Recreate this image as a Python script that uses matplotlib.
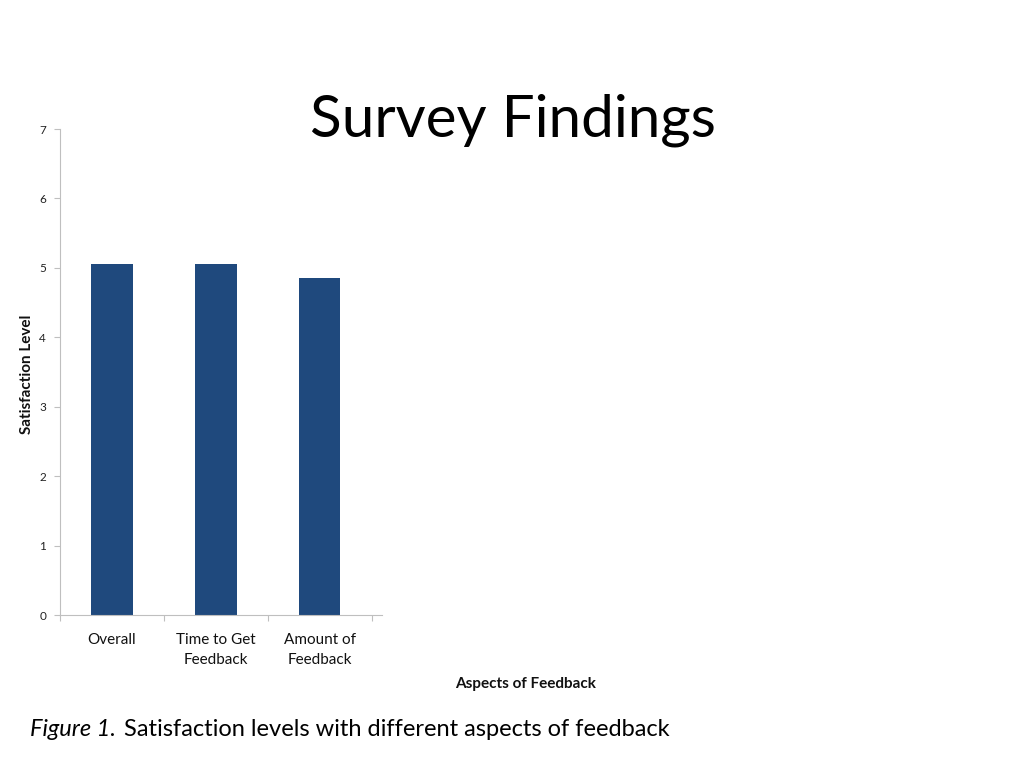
import matplotlib
matplotlib.use("Agg")
import matplotlib.pyplot as plt

categories = ["Overall", "Time to Get\nFeedback", "Amount of\nFeedback"]
values = [5.05, 5.05, 4.86]
yticks = [0, 1, 2, 3, 4, 5, 6, 7]

plt.rcParams['font.family'] = ['Lato', 'DejaVu Sans']

W, H = 1024, 768
fig = plt.figure(figsize=(W / 100, H / 100), dpi=100)
fig.patch.set_facecolor("white")

x0, x1 = 60, 382
y0, y1 = 615, 129
ax = fig.add_axes([x0 / W, 1 - y0 / H, (x1 - x0) / W, (y0 - y1) / H])

pos = [i + 0.5 for i in range(len(categories))]
ax.bar(pos, values, width=0.4, color="#1F497D", zorder=2)
ax.set_xlim(0, 3.1)
ax.set_ylim(0, 7)
ax.set_yticks(yticks)
ax.set_yticklabels([str(t) for t in yticks], fontsize=8.5, color="#222222")
ax.set_xticks([0, 1, 2, 3])
ax.set_xticklabels([])
ax.set_xticks(pos, minor=True)
ax.set_xticklabels(categories, minor=True, fontsize=11, color="#111111", linespacing=1.55)
ax.tick_params(axis="x", which="minor", length=0, pad=13)
ax.tick_params(axis="x", which="major", length=4, color="#BFBFBF", direction="out")
ax.tick_params(axis="y", length=4, color="#BFBFBF", pad=6)
for s in ["top", "right"]:
    ax.spines[s].set_visible(False)
for s in ["left", "bottom"]:
    ax.spines[s].set_color("#BFBFBF")
    ax.spines[s].set_linewidth(0.8)

fig.text(27 / W, 1 - 374 / H, "Satisfaction Level", rotation=90, ha="center", va="center",
         fontsize=11, fontweight="bold", color="#111111")
fig.text(526 / W, 1 - 684 / H, "Aspects of Feedback", ha="center", va="center",
         fontsize=11, fontweight="bold", color="#111111")
fig.text(513 / W, 1 - 120 / H, "Survey Findings", ha="center", va="center",
         fontsize=42, color="#000000")

t1 = fig.text(30 / W, 1 - 730 / H, "Figure 1.", ha="left", va="center",
              fontsize=17, style="italic", color="#000000")
fig.canvas.draw()
bb = t1.get_window_extent(renderer=fig.canvas.get_renderer())
fig.text((bb.x1 + 8) / W, 1 - 730 / H, "Satisfaction levels with different aspects of feedback",
         ha="left", va="center", fontsize=17, color="#000000")

fig.savefig("out.png", dpi=100)
